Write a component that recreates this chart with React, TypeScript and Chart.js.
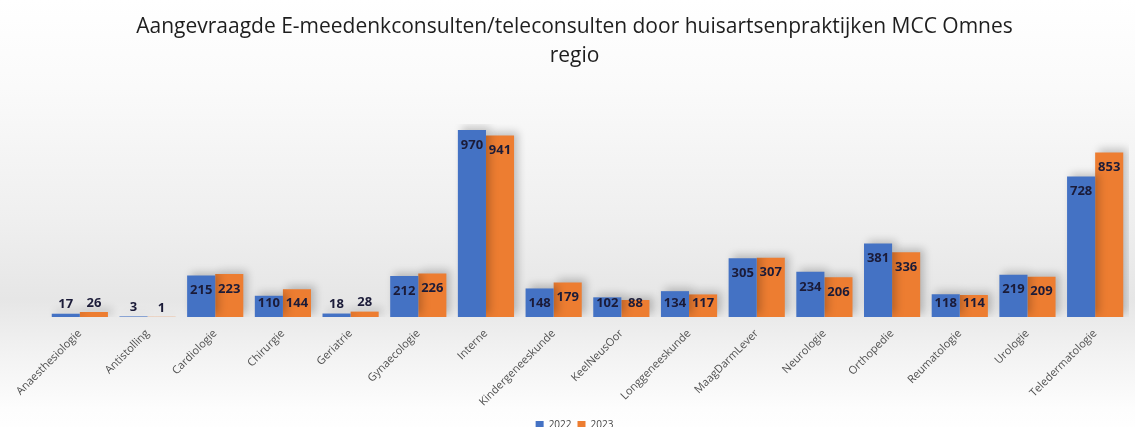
import React, { useEffect, useRef } from 'react';
import { Chart, registerables } from 'chart.js';
Chart.register(...registerables);

const categories = [
  'Anaesthesiologie', 'Antistolling', 'Cardiologie', 'Chirurgie', 'Geriatrie', 'Gynaecologie',
  'Interne', 'Kindergeneeskunde', 'KeelNeusOor', 'Longgeneeskunde', 'MaagDarmLever',
  'Neurologie', 'Orthopedie', 'Reumatologie', 'Urologie', 'Teledermatologie',
];
const values2022 = [17, 3, 215, 110, 18, 212, 970, 148, 102, 134, 305, 234, 381, 118, 219, 728];
const values2023 = [26, 1, 223, 144, 28, 226, 941, 179, 88, 117, 307, 206, 336, 114, 209, 853];
const seriesLabels = ['2022', '2023'];
const seriesColors = ['#4472C4', '#ED7D31'];
const titleLines = [
  'Aangevraagde E-meedenkconsulten/teleconsulten door huisartsenpraktijken MCC Omnes',
  'regio',
];

export default function App() {
  const ref = useRef<HTMLCanvasElement>(null);
  useEffect(() => {
    if (!ref.current) return;
    const bgPlugin = {
      id: 'bg',
      beforeDraw(chart: any) {
        const { ctx, width, height } = chart;
        const g = ctx.createLinearGradient(0, 0, 0, height);
        g.addColorStop(0, '#ffffff');
        g.addColorStop(0.2, '#fafafa');
        g.addColorStop(0.5, '#efefef');
        g.addColorStop(0.68, '#e6e6e6');
        g.addColorStop(0.8, '#f2f2f2');
        g.addColorStop(0.93, '#fdfdfd');
        g.addColorStop(1, '#ffffff');
        ctx.save();
        ctx.fillStyle = g;
        ctx.fillRect(0, 0, width, height);
        ctx.restore();
      },
    };
    const shadowLabelPlugin = {
      id: 'shadowLabels',
      beforeDatasetsDraw(chart: any) {
        const ctx = chart.ctx;
        ctx.save();
        ctx.shadowColor = 'rgba(0,0,0,0.22)';
        ctx.shadowBlur = 8;
        ctx.shadowOffsetX = 4;
        ctx.shadowOffsetY = -3;
      },
      afterDatasetsDraw(chart: any) {
        const ctx = chart.ctx;
        ctx.restore();
        ctx.save();
        ctx.font = 'bold 13px "Open Sans"';
        ctx.fillStyle = '#1b1b38';
        ctx.textAlign = 'center';
        ctx.textBaseline = 'middle';
        chart.data.datasets.forEach((ds: any, i: number) => {
          const meta = chart.getDatasetMeta(i);
          meta.data.forEach((bar: any, j: number) => {
            const { x, y, base } = bar.getProps(['x', 'y', 'base'], true);
            const h = base - y;
            let cy: number;
            if (h >= 15) cy = Math.min(y + 15, base - 14);
            else cy = y - 9;
            ctx.fillText(String(ds.data[j]), x, cy);
          });
        });
        ctx.restore();
      },
    };
    const chart = new Chart(ref.current, {
      type: 'bar',
      data: {
        labels: categories,
        datasets: [
          { label: seriesLabels[0], data: values2022, backgroundColor: seriesColors[0], categoryPercentage: 0.83, barPercentage: 1 },
          { label: seriesLabels[1], data: values2023, backgroundColor: seriesColors[1], categoryPercentage: 0.83, barPercentage: 1 },
        ],
      },
      options: {
        animation: false,
        responsive: true,
        maintainAspectRatio: false,
        layout: { padding: { left: 20, right: 6, top: 0, bottom: 0 } },
        plugins: {
          title: {
            display: true,
            text: titleLines,
            color: '#1e1e1e',
            font: { family: '"Open Sans"', size: 21, weight: 'normal', lineHeight: 1.36 },
            padding: { top: 13, bottom: 54 },
          },
          legend: {
            display: true,
            position: 'bottom',
            labels: {
              boxWidth: 8,
              boxHeight: 8,
              padding: 6,
              color: '#444444',
              font: { family: '"Open Sans"', size: 10 },
            },
          },
          tooltip: { enabled: false },
        },
        scales: {
          x: {
            grid: { display: false },
            border: { display: false },
            ticks: {
              autoSkip: false,
              maxRotation: 45,
              minRotation: 45,
              color: '#505050',
              font: { family: '"Open Sans"', size: 11 },
              padding: 2,
            },
            afterFit(scale: any) {
              scale.height = 97;
            },
          },
          y: {
            display: true,
            min: 0,
            max: 1000,
            grid: { display: false },
            border: { display: false },
            ticks: { display: false },
            afterFit(scale: any) {
              scale.width = 26;
            },
          },
        },
      },
      plugins: [bgPlugin, shadowLabelPlugin],
    });
    return () => chart.destroy();
  }, []);
  return (
    <div style={{ position: 'fixed', left: 0, top: 0, width: 1135, height: 440 }}>
      <canvas ref={ref} />
    </div>
  );
}
